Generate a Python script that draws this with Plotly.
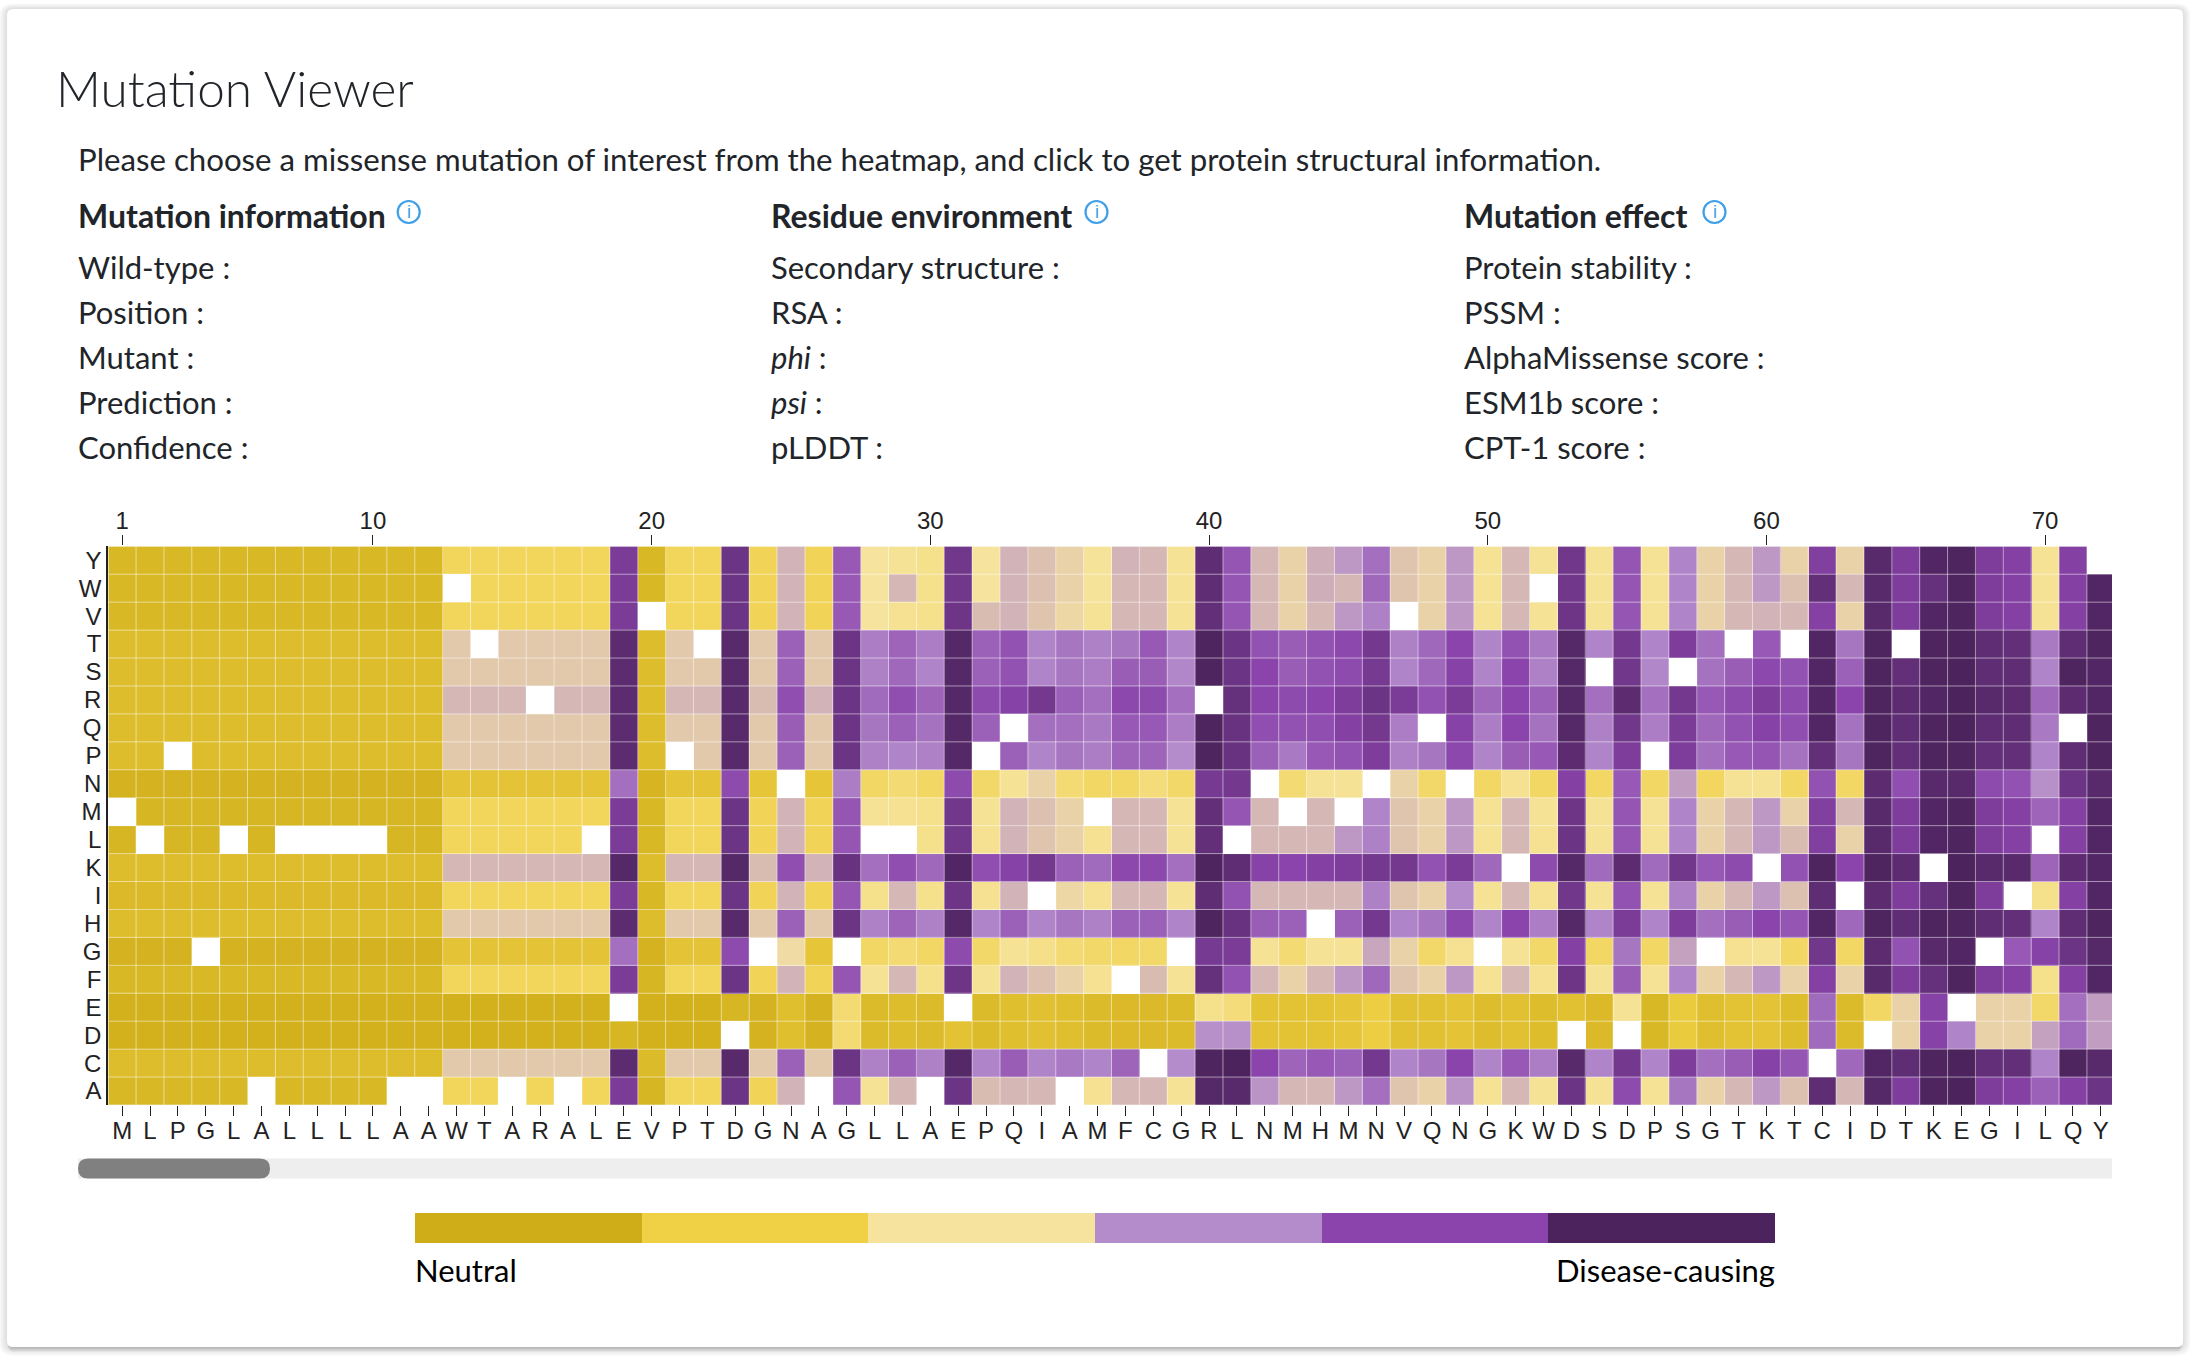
import plotly.graph_objects as go

_ = None
residues = list("MLPGLALLLLAAWTARALEVPTDGNAGLLAEPQIAMFCGRLNMHMNVQNGKWDSDPSGTKTCIDTKEGILQY")
mutants = list("YWVTSRQPNMLKIHGFEDCA")
position_ticks = [1, 10, 20, 30, 40, 50, 60, 70]

# each list: score (0-100) per mutant, order Y W V T S R Q P N M L K I H G F E D C A
p01 = [6,6,6,9,9,9,9,9,3,_,5,9,7,9,3,6,2,2,9,6]
p02 = [6,6,6,9,9,9,9,9,3,5,_,9,7,9,3,6,2,2,9,6]
p03 = [6,6,6,9,9,9,9,_,3,5,5,9,7,9,3,6,2,2,9,6]
p04 = [6,6,6,9,9,9,9,9,3,5,5,9,7,9,_,6,2,2,9,6]
p05 = [6,6,6,9,9,9,9,9,3,5,_,9,7,9,3,6,2,2,9,6]
p06 = [6,6,6,9,9,9,9,9,3,5,5,9,7,9,3,6,2,2,9,_]
p07 = [6,6,6,9,9,9,9,9,3,5,_,9,7,9,3,6,2,2,9,6]
p08 = [6,6,6,9,9,9,9,9,3,5,_,9,7,9,3,6,2,2,9,6]
p09 = [6,6,6,9,9,9,9,9,3,5,_,9,7,9,3,6,2,2,9,6]
p10 = [6,6,6,9,9,9,9,9,3,5,_,9,7,9,3,6,2,2,9,6]
p11 = [6,6,6,9,9,9,9,9,3,5,5,9,7,9,3,6,2,2,9,_]
p12 = [6,6,6,9,9,9,9,9,3,5,5,9,7,9,3,6,2,2,9,_]
p13 = [25,_,25,46,46,50,46,46,13,25,25,50,25,46,13,25,2,2,46,25]
p14 = [25,25,25,_,46,50,46,46,13,25,25,50,25,46,13,25,2,2,46,25]
p15 = [25,25,25,46,46,50,46,46,13,25,25,50,25,46,13,25,2,2,46,_]
p16 = [25,25,25,46,46,_,46,46,13,25,25,50,25,46,13,25,2,2,46,25]
p17 = [25,25,25,46,46,50,46,46,13,25,25,50,25,46,13,25,2,2,46,_]
p18 = [25,25,25,46,46,50,46,46,13,25,_,50,25,46,13,25,2,2,46,25]
p19 = [85,85,85,95,95,95,95,95,68,85,85,97,85,95,68,85,_,5,95,85]
p20 = [6,6,_,9,9,9,9,9,4,6,6,9,6,9,3,5,2,2,8,5]
p21 = [25,25,25,46,46,50,46,_,13,25,25,50,25,46,13,25,2,2,46,25]
p22 = [25,25,25,_,46,50,46,46,13,25,25,50,25,46,13,25,2,2,46,25]
p23 = [90,90,90,96,96,96,96,96,78,90,90,97,90,96,78,90,5,_,96,90]
p24 = [24,24,24,46,46,49,46,46,14,24,24,49,24,46,_,24,3,3,46,24]
p25 = [51,51,51,72,72,77,73,72,_,51,51,77,51,72,42,51,10,10,72,51]
p26 = [24,24,24,46,46,51,46,46,14,24,24,51,24,46,14,24,3,3,46,_]
p27 = [74,74,74,90,90,90,90,90,64,75,75,91,75,90,_,75,30,30,90,75]
p28 = [40,40,40,64,63,69,66,63,27,38,_,68,36,63,27,38,8,8,63,38]
p29 = [38,50,37,71,70,77,72,62,30,37,_,77,50,71,30,50,9,9,72,50]
p30 = [36,36,36,64,62,71,67,63,27,36,36,70,36,63,27,36,8,8,63,_]
p31 = [88,88,89,97,97,97,97,97,78,88,88,98,89,97,78,89,_,12,97,90]
p32 = [40,40,49,72,72,78,72,_,28,38,37,77,37,62,28,38,8,8,62,49]
p33 = [51,51,51,76,76,81,_,72,38,51,51,81,51,72,38,51,10,10,73,50]
p34 = [48,48,47,62,62,87,68,62,44,48,47,87,_,62,35,48,11,11,62,50]
p35 = [44,44,43,66,66,72,68,66,30,44,44,72,43,66,30,44,10,10,65,_]
p36 = [39,39,38,63,64,68,65,64,27,_,37,69,37,63,28,37,8,8,62,37]
p37 = [51,50,50,66,73,79,74,71,27,50,50,79,50,72,27,_,7,7,71,50]
p38 = [50,50,50,74,73,78,74,71,32,50,50,79,50,72,28,49,7,7,_,50]
p39 = [38,38,38,62,61,68,64,60,28,38,38,68,38,62,_,38,8,8,60,38]
p40 = [94,94,93,99,99,_,99,99,86,93,93,99,94,99,86,92,36,59,99,97]
p41 = [75,75,75,90,90,92,91,91,87,75,_,94,76,91,85,76,32,59,100,96]
p42 = [50,50,50,76,80,80,77,72,_,50,50,81,50,73,38,50,12,12,80,58]
p43 = [44,44,44,73,73,78,76,65,30,_,50,80,50,72,30,44,12,12,71,50]
p44 = [52,52,50,76,76,80,77,74,38,50,50,82,50,_,38,50,12,12,74,50]
p45 = [57,50,57,79,78,84,82,76,38,_,57,84,50,72,38,57,14,14,72,57]
p46 = [68,70,63,87,86,90,87,84,_,62,63,87,63,87,54,70,18,18,87,68]
p47 = [47,47,_,63,62,85,64,63,44,47,47,87,47,62,44,47,11,11,62,47]
p48 = [44,44,44,70,70,76,_,66,28,44,44,76,44,66,28,44,11,11,66,44]
p49 = [57,57,57,80,81,85,81,79,_,57,57,85,60,79,37,57,13,13,80,58]
p50 = [38,38,38,62,62,70,64,62,27,38,38,70,38,62,_,38,9,9,62,38]
p51 = [50,50,50,76,80,80,80,73,37,50,50,_,50,80,38,50,11,11,74,50]
p52 = [38,_,38,65,63,72,67,74,27,38,37,78,37,64,28,37,9,9,64,38]
p53 = [88,88,89,97,97,97,97,95,82,89,90,97,88,97,82,89,11,_,96,90]
p54 = [38,38,38,62,_,68,63,62,27,38,38,69,38,62,27,38,7,7,62,38]
p55 = [75,75,75,87,88,95,88,84,74,75,75,95,76,85,66,73,38,_,87,78]
p56 = [38,38,38,62,61,68,64,_,27,38,38,69,38,62,27,38,6,6,62,38]
p57 = [62,62,62,84,_,87,85,84,56,62,62,88,63,84,55,62,17,17,84,66]
p58 = [44,44,44,68,67,74,70,68,26,44,44,74,44,68,_,44,10,10,68,44]
p59 = [50,50,50,_,73,78,76,74,38,50,50,78,50,73,37,50,12,12,73,50]
p60 = [57,57,51,74,79,84,81,75,38,57,57,_,57,80,38,57,13,13,81,57]
p61 = [44,48,50,_,76,78,77,67,27,44,49,76,48,75,27,44,9,9,75,48]
p62 = [83,93,82,98,98,98,98,93,76,83,83,99,94,98,88,82,69,69,_,94]
p63 = [44,50,44,66,72,80,67,66,27,50,44,80,_,70,27,44,8,8,70,50]
p64 = [96,96,96,99,99,99,99,99,95,96,96,99,95,99,95,96,27,_,98,97]
p65 = [84,84,84,_,93,95,94,93,77,84,84,95,84,94,76,84,44,44,94,84]
p66 = [98,92,98,99,99,98,99,99,96,98,98,_,92,99,96,92,81,81,99,99]
p67 = [99,99,99,100,100,100,100,99,96,99,99,100,99,99,98,99,_,62,100,100]
p68 = [84,84,84,94,94,96,94,93,78,84,84,96,84,94,_,84,44,44,93,84]
p69 = [82,82,82,93,94,95,94,93,76,82,82,96,_,93,74,82,44,44,93,82]
p70 = [38,38,38,65,62,70,65,62,59,71,_,71,36,62,81,36,28,55,62,72]
p71 = [82,82,82,94,99,95,_,94,90,82,82,95,82,94,90,82,68,69,99,82]
p72 = [_,98,98,99,98,98,99,99,96,98,98,98,98,99,97,98,56,56,96,90]

positions = [p01,p02,p03,p04,p05,p06,p07,p08,p09,p10,p11,p12,p13,p14,p15,p16,p17,p18,
             p19,p20,p21,p22,p23,p24,p25,p26,p27,p28,p29,p30,p31,p32,p33,p34,p35,p36,
             p37,p38,p39,p40,p41,p42,p43,p44,p45,p46,p47,p48,p49,p50,p51,p52,p53,p54,
             p55,p56,p57,p58,p59,p60,p61,p62,p63,p64,p65,p66,p67,p68,p69,p70,p71,p72]
z = [[col[r] for col in positions] for r in range(len(mutants))]

scale_colors = ["#CFAD19", "#F0D045", "#F6E49E", "#B48BCB", "#8A44AB", "#4C235C"]
legend_levels = [0, 1, 2, 3, 4, 5]

W, H = 2190, 1360
def px(x): return x / W
def py(y): return 1 - y / H

def round_rect(x0, y0, x1, y1, r):
    return (f"M {px(x0 + r)} {py(y0)} L {px(x1 - r)} {py(y0)} Q {px(x1)} {py(y0)} {px(x1)} {py(y0 + r)} "
            f"L {px(x1)} {py(y1 - r)} Q {px(x1)} {py(y1)} {px(x1 - r)} {py(y1)} "
            f"L {px(x0 + r)} {py(y1)} Q {px(x0)} {py(y1)} {px(x0)} {py(y1 - r)} "
            f"L {px(x0)} {py(y0 + r)} Q {px(x0)} {py(y0)} {px(x0 + r)} {py(y0)} Z")

TXT = "Lato"
INK = "#212529"
ICON = "#3F9FE8"
icon_x = [408.7, 1096.5, 1714.5]

fig = go.Figure()
fig.add_trace(go.Heatmap(
    z=z, x=list(range(1, 73)), y=list(range(20)),
    colorscale=[[i / 5, c] for i, c in enumerate(scale_colors)],
    zmin=0, zmax=100, showscale=False, hoverongaps=False, xgap=0, ygap=0,
))
fig.add_trace(go.Heatmap(
    z=[legend_levels], xaxis="x3", yaxis="y3", showscale=False, hoverinfo="skip",
    colorscale=[[v, c] for i, c in enumerate(scale_colors) for v in (i / 6, (i + 1) / 6)],
    zmin=-0.5, zmax=5.5,
))
fig.add_trace(go.Scatter(x=[1], y=[0], xaxis="x2", yaxis="y", mode="markers",
                         marker=dict(opacity=0), hoverinfo="skip", showlegend=False))

CX0, CY0, CX1, CY1 = 7, 9, 2183, 1347
shapes = []
# card shadow
for d in range(1, 9):
    shapes.append(dict(type="path", xref="paper", yref="paper", layer="below",
                       path=round_rect(CX0 - d, CY0 - d * 0.7, CX1 + d, CY1 + d + 1, 6 + d),
                       fillcolor="rgba(0,0,0,0.017)", line_width=0))
for d in range(1, 6):
    shapes.append(dict(type="path", xref="paper", yref="paper", layer="below",
                       path=round_rect(CX0 + 1, CY0, CX1 - 1, CY1 + d, 6),
                       fillcolor="rgba(0,0,0,0.035)", line_width=0))
shapes.append(dict(type="path", xref="paper", yref="paper", layer="below",
                   path=round_rect(CX0, CY0, CX1, CY1, 6), fillcolor="white", line_width=0))
# cell borders
for k in range(0, 72):
    shapes.append(dict(type="line", xref="x", yref="y", x0=k + 0.5, x1=k + 0.5, y0=-0.5, y1=19.5,
                       line=dict(color="rgba(255,255,255,0.5)", width=1)))
for k in range(0, 21):
    shapes.append(dict(type="line", xref="x", yref="y", x0=0.5, x1=72.4, y0=k - 0.5, y1=k - 0.5,
                       line=dict(color="rgba(255,255,255,0.5)", width=1)))
# scrollbar
shapes.append(dict(type="rect", xref="paper", yref="paper", x0=px(78), x1=px(2112), y0=py(1178.5), y1=py(1158.5),
                   fillcolor="#EEEEEE", line_width=0))
shapes.append(dict(type="path", xref="paper", yref="paper", path=round_rect(78, 1158.5, 270, 1178.5, 10),
                   fillcolor="#808080", line_width=0))
# info icons
for cx in icon_x:
    shapes.append(dict(type="circle", xref="paper", yref="paper", x0=px(cx - 11), x1=px(cx + 11),
                       y0=py(212 + 11), y1=py(212 - 11), line=dict(color=ICON, width=2.2)))

def label(text, x, y, size=31, color=INK, weight=400, xanchor="left"):
    return dict(text=text, x=px(x), y=py(y), xref="paper", yref="paper", showarrow=False,
                xanchor=xanchor, yanchor="middle", align="left",
                font=dict(family=TXT, size=size, color=color, weight=weight))

ann = [label("Mutation Viewer", 54, 88, size=49.5, weight=300),
       label("Please choose a missense mutation of interest from the heatmap, and click to get protein structural information.", 76, 159, size=31.2)]
col_x = [76, 769, 1462]
heads = ["Mutation information", "Residue environment", "Mutation effect"]
items = [["Wild-type :", "Position :", "Mutant :", "Prediction :", "Confidence :"],
         ["Secondary structure :", "RSA :", "<i>phi</i> :", "<i>psi</i> :", "pLDDT :"],
         ["Protein stability :", "PSSM :", "AlphaMissense score :", "ESM1b score :", "CPT-1 score :"]]
row_y = [267, 312, 357, 402, 447]
for x, h, it in zip(col_x, heads, items):
    ann.append(label(h, x, 215, size=32, weight=700))
    for t, y in zip(it, row_y):
        ann.append(label(t, x, y))
for cx in icon_x:
    ann.append(dict(text="i", x=px(cx), y=py(212), xref="paper", yref="paper", showarrow=False,
                    xanchor="center", yanchor="middle",
                    font=dict(family="Liberation Sans", size=18, color=ICON)))
ann.append(label("Neutral", 413, 1270, color="#000000"))
ann.append(label("Disease-causing", 1777, 1270, color="#000000", xanchor="right"))

axis_font = dict(family="Liberation Sans", size=24, color="#222222")
fig.update_layout(
    width=W, height=H, autosize=False, margin=dict(l=0, r=0, t=0, b=0),
    paper_bgcolor="white", plot_bgcolor="rgba(0,0,0,0)", showlegend=False,
    shapes=shapes, annotations=ann,
    xaxis=dict(domain=[px(108.2), px(2112)], range=[0.5, 72.4], tickmode="array",
               tickvals=list(range(1, 73)), ticktext=residues, ticks="outside", ticklen=10,
               tickcolor="#222222", tickfont=axis_font, showgrid=False, zeroline=False, anchor="y", tickangle=0,
               ticklabelstandoff=-6),
    xaxis2=dict(domain=[px(108.2), px(2112)], range=[0.5, 72.4], overlaying="x", side="top", anchor="y",
                tickmode="array", tickvals=position_ticks, ticktext=[str(v) for v in position_ticks],
                ticks="outside", ticklen=10, tickcolor="#222222", tickfont=axis_font, showgrid=False, zeroline=False,
                ticklabelstandoff=-3),
    yaxis=dict(domain=[py(1105), py(546.3)], range=[19.5, -0.5], tickmode="array", tickvals=list(range(20)),
               ticktext=mutants, ticks="", tickfont=axis_font, showgrid=False, zeroline=False,
               showline=True, linecolor="#222222", linewidth=2, anchor="x", ticklabelstandoff=0),
    xaxis3=dict(domain=[px(415), px(1775)], visible=False, anchor="y3", range=[-0.5, 5.5]),
    yaxis3=dict(domain=[py(1243), py(1213)], visible=False, anchor="x3", range=[-0.5, 0.5]),
)
fig.write_html("out.html", config={"displayModeBar": False},
               post_script='document.body.style.margin="0";document.body.style.overflow="hidden";')
